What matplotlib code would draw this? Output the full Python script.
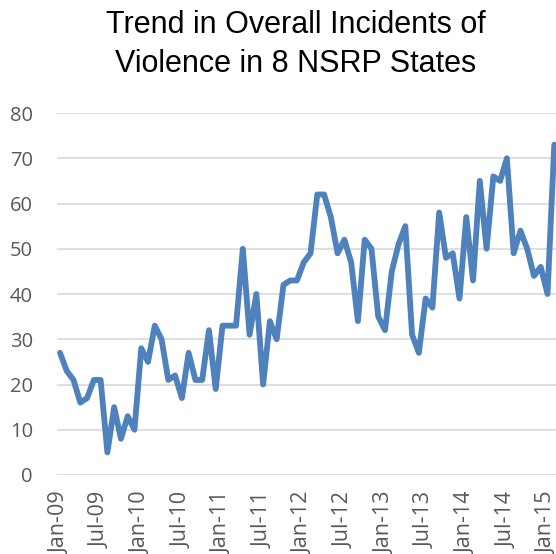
import matplotlib.pyplot as plt

# monthly incidents, Jan-09 .. Feb-15
months = [
    "Jan-09", "Feb-09", "Mar-09", "Apr-09", "May-09", "Jun-09",
    "Jul-09", "Aug-09", "Sep-09", "Oct-09", "Nov-09", "Dec-09",
    "Jan-10", "Feb-10", "Mar-10", "Apr-10", "May-10", "Jun-10",
    "Jul-10", "Aug-10", "Sep-10", "Oct-10", "Nov-10", "Dec-10",
    "Jan-11", "Feb-11", "Mar-11", "Apr-11", "May-11", "Jun-11",
    "Jul-11", "Aug-11", "Sep-11", "Oct-11", "Nov-11", "Dec-11",
    "Jan-12", "Feb-12", "Mar-12", "Apr-12", "May-12", "Jun-12",
    "Jul-12", "Aug-12", "Sep-12", "Oct-12", "Nov-12", "Dec-12",
    "Jan-13", "Feb-13", "Mar-13", "Apr-13", "May-13", "Jun-13",
    "Jul-13", "Aug-13", "Sep-13", "Oct-13", "Nov-13", "Dec-13",
    "Jan-14", "Feb-14", "Mar-14", "Apr-14", "May-14", "Jun-14",
    "Jul-14", "Aug-14", "Sep-14", "Oct-14", "Nov-14", "Dec-14",
    "Jan-15", "Feb-15",
]
incidents = [
    27, 23, 21, 16, 17, 21, 21, 5, 15, 8, 13, 10,
    28, 25, 33, 30, 21, 22, 17, 27, 21, 21, 32, 19,
    33, 33, 33, 50, 31, 40, 20, 34, 30, 42, 43, 43,
    47, 49, 62, 62, 57, 49, 52, 47, 34, 52, 50, 35,
    32, 45, 51, 55, 31, 27, 39, 37, 58, 48, 49, 39,
    57, 43, 65, 50, 66, 65, 70, 49, 54, 50, 44, 46,
    40, 73,
]
y_ticks = [0, 10, 20, 30, 40, 50, 60, 70, 80]

LINE_COLOR = "#4F81BD"
GRID_COLOR = "#D9D9D9"
TEXT_GRAY = "#595959"

fig = plt.figure(figsize=(5.56, 5.54), dpi=100)
ax = fig.add_axes([0.1018, 0.1426, 0.9012, 0.6534])

x = list(range(len(incidents)))
ax.plot(x, incidents, color=LINE_COLOR, linewidth=4.2, solid_joinstyle="round",
        solid_capstyle="round", zorder=3)

ax.set_xlim(-0.5, len(incidents) - 0.5)
ax.set_ylim(0, 80)
ax.set_yticks(y_ticks)
ax.set_yticklabels([str(v) for v in y_ticks])
ax.set_xticks(x[::6])
ax.set_xticklabels(months[::6], rotation=90, va="top", ha="center")

ax.grid(axis="y", color=GRID_COLOR, linewidth=1.2)
ax.set_axisbelow(True)
for side in ["top", "right", "left", "bottom"]:
    ax.spines[side].set_visible(False)
ax.tick_params(axis="both", length=0, colors=TEXT_GRAY, labelsize=14.5)
ax.tick_params(axis="y", pad=17)
ax.tick_params(axis="x", labelsize=15.5, pad=12)
for lbl in ax.get_xticklabels() + ax.get_yticklabels():
    lbl.set_fontfamily("Open Sans")

fig.text(0.532, 0.940, "Trend in Overall Incidents of", ha="center", va="baseline",
         fontsize=22, family="Liberation Sans", color="black")
fig.text(0.532, 0.870, "Violence in 8 NSRP States", ha="center", va="baseline",
         fontsize=22, family="Liberation Sans", color="black")

fig.savefig("out.png", dpi=100)
